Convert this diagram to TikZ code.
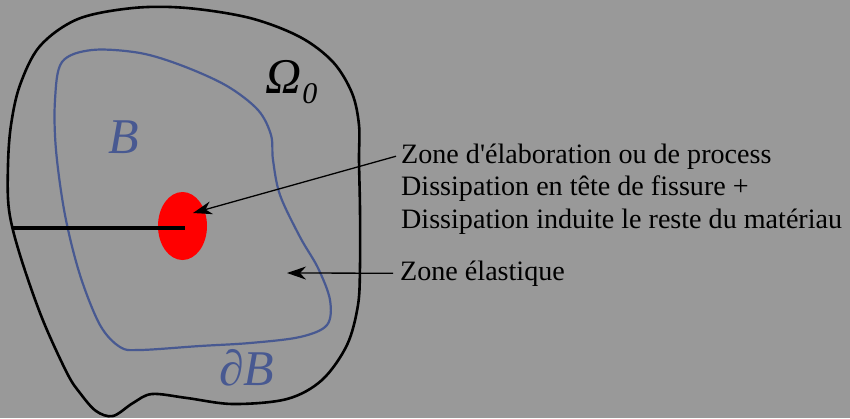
\documentclass[tikz,border=0pt]{standalone}
\usepackage{fontspec}
\setmainfont{Liberation Serif}[Ligatures=TeXOff]
\usetikzlibrary{arrows.meta}
\definecolor{bggray}{RGB}{153,153,153}
\definecolor{zoneblue}{RGB}{72,89,145}
\tikzset{
  outline/.style={draw=black, line width=2.6pt, line join=round},
  bline/.style={draw=zoneblue, line width=2.2pt, line join=round},
  pointer/.style={draw=black, line width=1.3pt,
    -{Stealth[length=19pt, width=13pt, inset=6pt]}},
  caption/.style={anchor=base west, inner sep=0pt, text=black,
    font=\fontsize{28.1}{32.5}\selectfont},
  biglabel/.style={anchor=base west, inner sep=0pt,
    font=\fontsize{50}{50}\selectfont\itshape}
}
\begin{document}
\begin{tikzpicture}[x=1pt, y=-1pt]
  % canvas
  \fill[bggray] (0,0) rectangle (850,418);
  \useasboundingbox (0,0) rectangle (850,418);

  % outer domain
  \draw[outline] plot[smooth cycle, tension=0.55] coordinates {
    (9,210) (8,165) (11,125) (20,85) (40,46) (78,19) (133,8) (187,8)
    (250,18) (300,37) (333,62) (352,93) (359,125) (359,160) (360,210)
    (360,265) (358,305) (347,345) (322,380) (287,399) (233,404)
    (187,398) (152,394) (133,403) (113,416) (96,411) (80,393) (67,373)
    (42,318) (20,255)};

  % inner domain B
  \draw[bline] plot[smooth cycle, tension=0.55] coordinates {
    (92,50) (140,53) (183,66) (227,86) (258,110) (271,135) (273,160)
    (280,195) (300,237) (318,268) (330,300) (327,325) (300,337)
    (250,343) (200,346) (140,350) (120,347) (100,325) (80,275)
    (65,215) (56,150) (55,100) (62,62)};

  % process zone and crack
  \fill[red] (182.5,226) ellipse [x radius=24.5, y radius=34];
  \coordinate (mouth) at (13,228);
  \coordinate (crtip) at (185,228);
  \draw[black, line width=4pt] (mouth) -- (crtip);

  % labels in the body
  \node[biglabel, text=black] (omega) at (265,93)
    {Ω\kern1pt\raisebox{-10pt}{\fontsize{30}{30}\selectfont 0}};
  \node[biglabel, text=zoneblue] (blab) at (108,153) {B};
  \node[biglabel, text=zoneblue] (dblab) at (219,385) {∂B};

  % captions
  \node[caption] (l1) at (401,163) {Zone d'élaboration ou de process};
  \node[caption] (l2) at (401,195.5) {Dissipation en tête de fissure +};
  \node[caption] (l3) at (401,228) {Dissipation induite le reste du matériau};
  \node[caption] (l4) at (400,280) {Zone élastique};

  % pointers
  \coordinate (ptA) at (193,213);
  \coordinate (ptB) at (287,273);
  \draw[pointer] ([xshift=-5pt]l1.west) -- (ptA);
  \draw[pointer] ([xshift=-7pt]l4.west) -- (ptB);
\end{tikzpicture}
\end{document}
